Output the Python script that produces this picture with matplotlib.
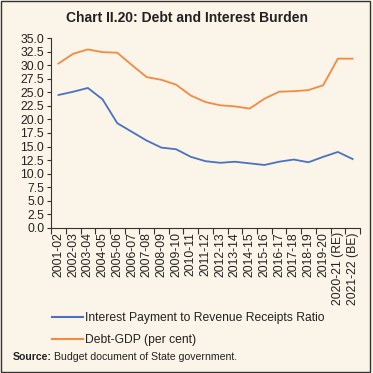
import numpy as np
import matplotlib.pyplot as plt
from matplotlib.lines import Line2D

plt.rcParams['font.family'] = ['Liberation Sans', 'DejaVu Sans']

################################################################################
# Data

years = ['2001-02', '2002-03', '2003-04', '2004-05', '2005-06', '2006-07',
	'2007-08', '2008-09', '2009-10', '2010-11', '2011-12', '2012-13',
	'2013-14', '2014-15', '2015-16', '2016-17', '2017-18', '2018-19',
	'2019-20', '2020-21 (RE)', '2021-22 (BE)']
interestRatio = [24.5, 25.1, 25.8, 23.7, 19.3, 17.7, 16.1, 14.8, 14.5, 13.1,
	12.3, 12.0, 12.2, 11.9, 11.6, 12.2, 12.6, 12.1, 13.1, 14.0, 12.7]
debtGDP = [30.3, 32.1, 32.9, 32.4, 32.3, 30.0, 27.8, 27.3, 26.4, 24.4,
	23.2, 22.6, 22.4, 22.0, 23.8, 25.1, 25.2, 25.4, 26.3, 31.2, 31.2]
yTicks = np.arange(0, 35.1, 2.5)

bg = '#FBF4E8'
blue = '#4A72C0'
orange = '#F28A42'

################################################################################
# Plot

fig = plt.figure(figsize=(3.73, 3.73), dpi=100, facecolor=bg)
ax = fig.add_axes([0.137, 0.389, 0.828, 0.509])
ax.set_facecolor(bg)

x = np.arange(len(years))
ax.plot(x, interestRatio, color=blue, lw=1.3)
ax.plot(x, debtGDP, color=orange, lw=1.3)

ax.set_xlim(-0.5, len(years) - 0.5)
ax.set_ylim(0, 35)
ax.set_yticks(yTicks)
ax.set_yticklabels(['%.1f' % v for v in yTicks], fontsize=8.7, color='#222222')
ax.set_xticks(x)
ax.set_xticklabels(years, rotation=90, fontsize=8.7, color='#222222')
ax.tick_params(axis='x', length=0, pad=3)
ax.set_xticks(np.arange(-0.5, len(years)), minor=True)
ax.tick_params(axis='x', which='minor', length=4, width=0.8, color='#333333')
ax.tick_params(axis='y', length=3, width=0.8, color='#333333', pad=2)

for s in ['top', 'right']:
	ax.spines[s].set_visible(False)
for s in ['left', 'bottom']:
	ax.spines[s].set_linewidth(0.8)
	ax.spines[s].set_color('#333333')

fig.text(0.5, 0.953, 'Chart II.20: Debt and Interest Burden', ha='center', va='center',
	fontsize=10, fontweight='bold', color='#222222')

handles = [Line2D([], [], color=blue, lw=1.5), Line2D([], [], color=orange, lw=1.5)]
fig.legend(handles, ['Interest Payment to Revenue Receipts Ratio', 'Debt-GDP (per cent)'],
	loc='upper left', bbox_to_anchor=(0.11, 0.193), frameon=False, fontsize=8.7,
	handlelength=2.6, handletextpad=0.15, labelspacing=0.85, labelcolor='#222222')

fig.text(0.035, 0.043, 'Source:', fontsize=7.6, fontweight='bold', color='#222222', va='center')
fig.text(0.145, 0.043, 'Budget document of State government.', fontsize=7.6, color='#222222', va='center')

# frame round the figure
fig.add_artist(plt.Rectangle((0.003, 0.004), 0.99, 0.993, transform=fig.transFigure,
	fill=False, edgecolor='#333333', lw=1.0))

plt.savefig('out.png', dpi=100, facecolor=bg)
